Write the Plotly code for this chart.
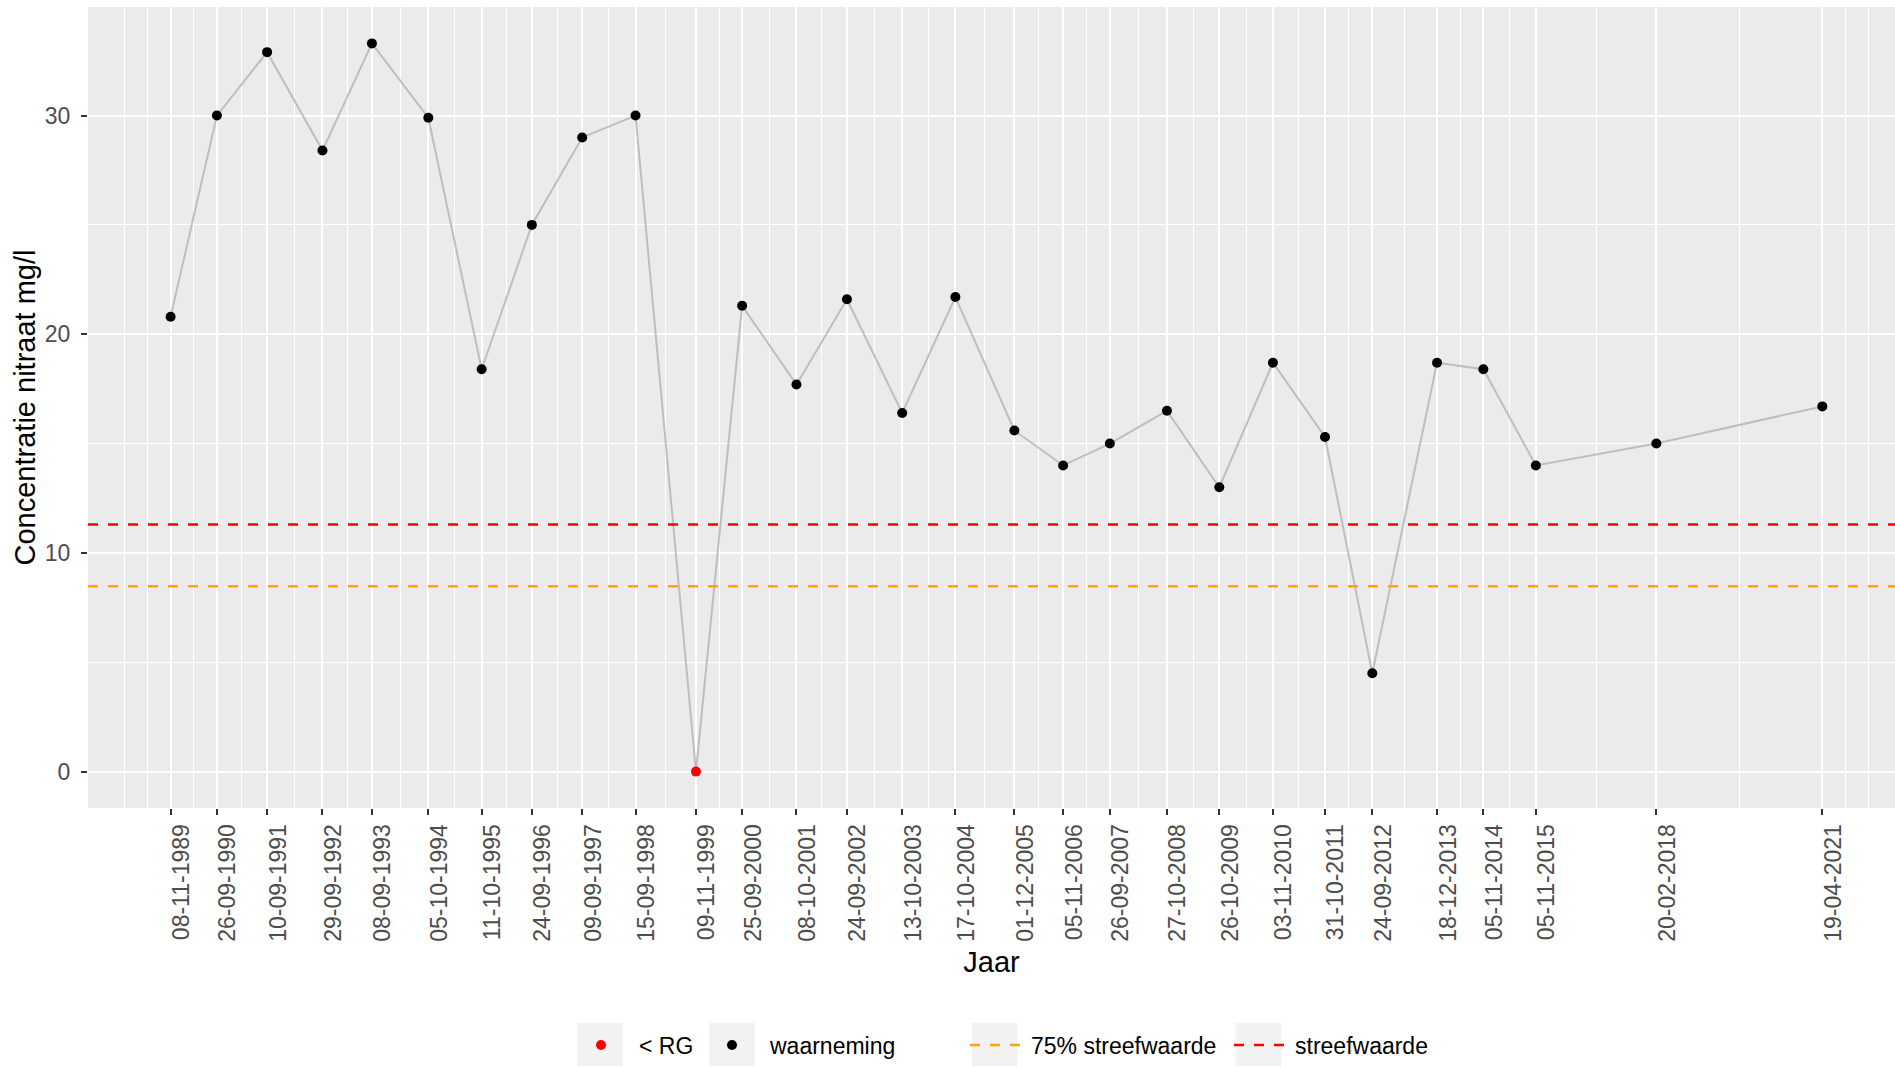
import plotly.graph_objects as go
from datetime import datetime

# ---------------- data ----------------
date_labels = [
    "08-11-1989", "26-09-1990", "10-09-1991", "29-09-1992", "08-09-1993",
    "05-10-1994", "11-10-1995", "24-09-1996", "09-09-1997", "15-09-1998",
    "09-11-1999", "25-09-2000", "08-10-2001", "24-09-2002", "13-10-2003",
    "17-10-2004", "01-12-2005", "05-11-2006", "26-09-2007", "27-10-2008",
    "26-10-2009", "03-11-2010", "31-10-2011", "24-09-2012", "18-12-2013",
    "05-11-2014", "05-11-2015", "20-02-2018", "19-04-2021",
]
values = [
    20.8, 30.0, 32.9, 28.4, 33.3,
    29.9, 18.4, 25.0, 29.0, 30.0,
    0.0, 21.3, 17.7, 21.6, 16.4,
    21.7, 15.6, 14.0, 15.0, 16.5,
    13.0, 18.7, 15.3, 4.5, 18.7,
    18.4, 14.0, 15.0, 16.7,
]
below_rg = [False] * 10 + [True] + [False] * 18
streefwaarde = 11.3
streefwaarde_75 = 8.475
y_tick_values = [0, 10, 20, 30]

# ---------------- derived ----------------
dates = [datetime.strptime(s, "%d-%m-%Y") for s in date_labels]
span = dates[-1] - dates[0]
x_start = dates[0] - span * 0.05
x_end = dates[-1] + span * 0.044  # reference panel is cut at the right edge

# ggplot-style minor breaks
bd = dates[1] - dates[0]
ext = [dates[0] - bd] + dates + [dates[-1] + bd]
minor_vals = []
for a, b in zip(ext[:-1], ext[1:]):
    minor_vals.append(a)
    minor_vals.append(a + (b - a) / 2)
minor_vals.append(ext[-1])

ymax = max(values)
y_range = [-0.05 * ymax, 1.05 * ymax]

FONT = "Liberation Sans, Arial, sans-serif"

fig = go.Figure()

fig.add_trace(go.Scatter(
    x=dates, y=values, mode="lines",
    line=dict(color="#BEBEBE", width=2),
    showlegend=False, hoverinfo="skip",
))

rg_x = [d for d, f in zip(dates, below_rg) if f]
rg_y = [v for v, f in zip(values, below_rg) if f]
ob_x = [d for d, f in zip(dates, below_rg) if not f]
ob_y = [v for v, f in zip(values, below_rg) if not f]

fig.add_trace(go.Scatter(
    x=rg_x, y=rg_y, mode="markers", name="< RG",
    marker=dict(color="#FF0000", size=10), legend="legend",
))
fig.add_trace(go.Scatter(
    x=ob_x, y=ob_y, mode="markers", name="waarneming",
    marker=dict(color="#000000", size=10), legend="legend2",
))
fig.add_trace(go.Scatter(
    x=[x_start, x_end], y=[streefwaarde_75, streefwaarde_75], mode="lines",
    name="75% streefwaarde", line=dict(color="#FFA500", width=2.5, dash="10px,10px"),
    legend="legend3",
))
fig.add_trace(go.Scatter(
    x=[x_start, x_end], y=[streefwaarde, streefwaarde], mode="lines",
    name="streefwaarde", line=dict(color="#FF0000", width=2.5, dash="10px,10px"),
    legend="legend4",
))

W, H = 1895, 1067
ML, MR, MT, MB = 88, 0, 7, 259
PW, PH = W - ML - MR, H - MT - MB

def px2paper_x(px):
    return (px - ML) / PW

def px2paper_y(py):
    return (H - MB - py) / PH

# grey legend key boxes
for x0, x1 in [(577, 623), (709, 755), (972, 1017), (1235, 1281)]:
    fig.add_shape(type="rect", xref="paper", yref="paper",
                  x0=px2paper_x(x0), x1=px2paper_x(x1),
                  y0=px2paper_y(1066), y1=px2paper_y(1023),
                  fillcolor="#F2F2F2", line=dict(width=0), layer="below")

leg_common = dict(orientation="h", xref="container", yref="container",
                  xanchor="left", yanchor="middle", bgcolor="rgba(0,0,0,0)",
                  font=dict(family=FONT, size=23, color="#000000"))
legend_y = 1 - 1045 / H

fig.update_layout(
    width=W, height=H,
    margin=dict(l=ML, r=MR, t=MT, b=MB),
    paper_bgcolor="#FFFFFF",
    plot_bgcolor="#EBEBEB",
    font=dict(family=FONT, color="#000000"),
    legend=dict(x=563 / W, y=legend_y, itemwidth=66, **leg_common),
    legend2=dict(x=694 / W, y=legend_y, itemwidth=66, **leg_common),
    legend3=dict(x=965 / W, y=legend_y, itemwidth=56, **leg_common),
    legend4=dict(x=1229 / W, y=legend_y, itemwidth=56, **leg_common),
    xaxis=dict(
        type="date", range=[x_start, x_end],
        tickmode="array", tickvals=dates, ticktext=date_labels,
        tickangle=-90, ticklabelshift=11,
        tickfont=dict(family=FONT, size=23, color="#4D4D4D"),
        ticks="outside", ticklen=6, tickwidth=1.5, tickcolor="#333333",
        showgrid=True, gridcolor="#FFFFFF", gridwidth=2.2,
        minor=dict(tickmode="array", tickvals=minor_vals, showgrid=True,
                   gridcolor="#FFFFFF", gridwidth=1.1, ticks=""),
        zeroline=False, showline=False,
        title=dict(text="Jaar", font=dict(family=FONT, size=29, color="#000000"),
                   standoff=10),
    ),
    yaxis=dict(
        range=y_range, tickmode="array", tickvals=y_tick_values,
        tickfont=dict(family=FONT, size=23, color="#4D4D4D"),
        ticks="outside", ticklen=6, tickwidth=1.5, tickcolor="#333333",
        ticklabelstandoff=6,
        showgrid=True, gridcolor="#FFFFFF", gridwidth=2.2,
        minor=dict(dtick=5, tick0=0, showgrid=True, gridcolor="#FFFFFF",
                   gridwidth=1.1, ticks=""),
        zeroline=False, showline=False,
        title=dict(text="Concentratie nitraat mg/l",
                   font=dict(family=FONT, size=29, color="#000000"), standoff=0),
    ),
)

fig.write_html("out.html",
               config={"displayModeBar": False},
               post_script="document.body.style.margin='0';"
                           "document.body.style.overflow='hidden';")
